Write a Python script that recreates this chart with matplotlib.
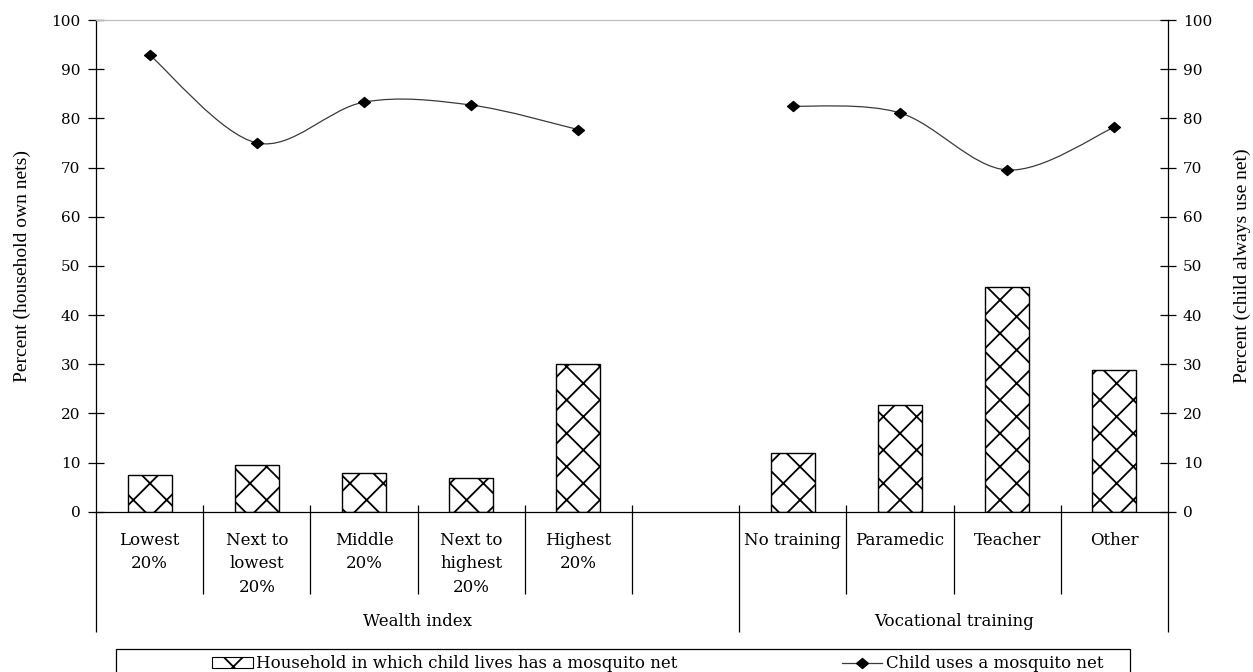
import numpy as np
import matplotlib
matplotlib.use("Agg")
import matplotlib.pyplot as plt
from matplotlib.path import Path
from matplotlib.patches import PathPatch, Rectangle
from matplotlib.lines import Line2D

# ---------------- data ----------------
categories = ["Lowest\n20%", "Next to\nlowest\n20%", "Middle\n20%",
              "Next to\nhighest\n20%", "Highest\n20%", "",
              "No training", "Paramedic", "Teacher", "Other"]
own_net = [7.5, 9.5, 7.9, 6.9, 30.1, np.nan, 12.0, 21.7, 45.8, 28.9]
uses_net = [92.9, 75.0, 83.3, 82.7, 77.7, np.nan, 82.5, 81.1, 69.5, 78.2]
groups = ["Wealth index", "Vocational training"]
group_sizes = [6, 4]
y_ticks = [0, 10, 20, 30, 40, 50, 60, 70, 80, 90, 100]
bar_label = "Household in which child lives has a mosquito net"
line_label = "Child uses a mosquito net"
left_ylabel = "Percent (household own nets)"
right_ylabel = "Percent (child always use net)"

# ---------------- style ----------------
plt.rcParams["font.family"] = ["DejaVu Serif", "DejaVu Sans"]
plt.rcParams["hatch.linewidth"] = 1.3
plt.rcParams["hatch.color"] = "black"

W, H = 1253, 672
fig = plt.figure(figsize=(W / 100, H / 100), dpi=100)


def fx(px):
    return px / W


def fy(py):
    return 1 - py / H


AX_L, AX_R, AX_B, AX_T = 96, 1168, 511.7, 20
ax = fig.add_axes([fx(AX_L), fy(AX_B), fx(AX_R) - fx(AX_L), fy(AX_T) - fy(AX_B)])
ax2 = ax.twinx()

n = len(categories)
x = np.arange(n)
ax.set_xlim(-0.5, n - 0.5)
ax.set_ylim(0, 100)
ax2.set_ylim(0, 100)

# bars
ax.bar(x, own_net, width=0.41, facecolor="white", edgecolor="black",
       linewidth=1.0, hatch="x", zorder=2)

# smoothed line (Bezier, Catmull-Rom style tangents), broken at NaN
diamond = Path([(-1, 0), (0, 0.85), (1, 0), (0, -0.85), (-1, 0)],
               [Path.MOVETO, Path.LINETO, Path.LINETO, Path.LINETO, Path.CLOSEPOLY])
line_color = "#3a3a3a"
vals = np.array(uses_net, dtype=float)
runs, cur = [], []
for i, v in enumerate(vals):
    if np.isnan(v):
        if cur:
            runs.append(cur)
        cur = []
    else:
        cur.append(i)
if cur:
    runs.append(cur)
for run in runs:
    pts = np.array([[x[i], vals[i]] for i in run])
    m = len(pts)
    verts = [tuple(pts[0])]
    codes = [Path.MOVETO]
    for i in range(m - 1):
        p0 = pts[max(i - 1, 0)]
        p1 = pts[i]
        p2 = pts[i + 1]
        p3 = pts[min(i + 2, m - 1)]
        c1 = p1 + (p2 - p0) / 6.0
        c2 = p2 - (p3 - p1) / 6.0
        verts += [tuple(c1), tuple(c2), tuple(p2)]
        codes += [Path.CURVE4] * 3
    ax2.add_patch(PathPatch(Path(verts, codes), fill=False, edgecolor=line_color,
                            linewidth=0.9, zorder=3))
ax2.plot(x, vals, linestyle="none", marker=diamond, markersize=8.5,
         color="black", zorder=4)

# spines
for s in ["left", "bottom"]:
    ax.spines[s].set_color("black")
    ax.spines[s].set_linewidth(0.9)
ax.spines["top"].set_color("#bdbdbd")
ax.spines["top"].set_linewidth(0.9)
ax.spines["right"].set_visible(False)
for s in ["left", "top", "bottom"]:
    ax2.spines[s].set_visible(False)
ax2.spines["right"].set_color("black")
ax2.spines["right"].set_linewidth(0.9)

# y ticks
ax.set_yticks(y_ticks)
ax2.set_yticks(y_ticks)
ax.tick_params(axis="y", direction="inout", length=11.5, width=0.9,
               labelsize=11, pad=5.5)
ax2.tick_params(axis="y", direction="inout", length=11.5, width=0.9,
                labelsize=11, pad=4.8)

# x category labels
ax.set_xticks(x)
ax.set_xticklabels(categories, fontsize=12, linespacing=1.5)
ax.tick_params(axis="x", length=0, pad=14.5)

# category separators and group boundaries
trans = ax.get_xaxis_transform()
edges = np.arange(n + 1) - 0.5
group_edges = set(np.concatenate([[0], np.cumsum(group_sizes)]).tolist())
y_above = 6.7 / (AX_B - AX_T)
y_short = -(594 - AX_B) / (AX_B - AX_T)
y_long = -(632 - AX_B) / (AX_B - AX_T)
for k, b in enumerate(edges):
    if k in group_edges:
        top = 0 if k in (0, n) else y_above
        ax.plot([b, b], [top, y_long], transform=trans, color="black",
                lw=0.9, clip_on=False, solid_capstyle="butt")
    else:
        ax.plot([b, b], [y_above, y_short], transform=trans, color="black",
                lw=0.9, clip_on=False, solid_capstyle="butt")

# group labels
start = 0
y_group = -(622 - AX_B) / (AX_B - AX_T)
for g, size in zip(groups, group_sizes):
    center = start + size / 2 - 0.5
    ax.text(center, y_group, g, transform=trans, ha="center", va="center",
            fontsize=12)
    start += size

# axis titles
yc = fy((AX_B + AX_T) / 2)
fig.text(fx(22), yc, left_ylabel, rotation=90, ha="center", va="center",
         fontsize=14, family=["Liberation Serif", "DejaVu Serif"])
fig.text(fx(1242), yc, right_ylabel, rotation=90, ha="center", va="center",
         fontsize=14, family=["Liberation Serif", "DejaVu Serif"])

# legend (box + handles + labels)
fig.add_artist(Rectangle((fx(115.6), fy(675)), fx(1130) - fx(115.6),
                         fy(648.5) - fy(675), transform=fig.transFigure,
                         fill=False, edgecolor="black", linewidth=0.9,
                         clip_on=False))
fig.add_artist(Rectangle((fx(212), fy(668)), fx(253) - fx(212), fy(657) - fy(668),
                         transform=fig.transFigure, facecolor="white",
                         edgecolor="black", linewidth=0.8, hatch="x"))
fig.text(fx(256), fy(668), bar_label, ha="left", va="baseline", fontsize=12)
fig.add_artist(Line2D([fx(842), fx(882)], [fy(663), fy(663)],
                      transform=fig.transFigure, color=line_color, lw=0.9))
fig.add_artist(Line2D([fx(862)], [fy(663)], transform=fig.transFigure,
                      linestyle="none", marker=diamond, markersize=8.5,
                      color="black"))
fig.text(fx(886), fy(668), line_label, ha="left", va="baseline", fontsize=12)

fig.savefig("out.png", dpi=100)
